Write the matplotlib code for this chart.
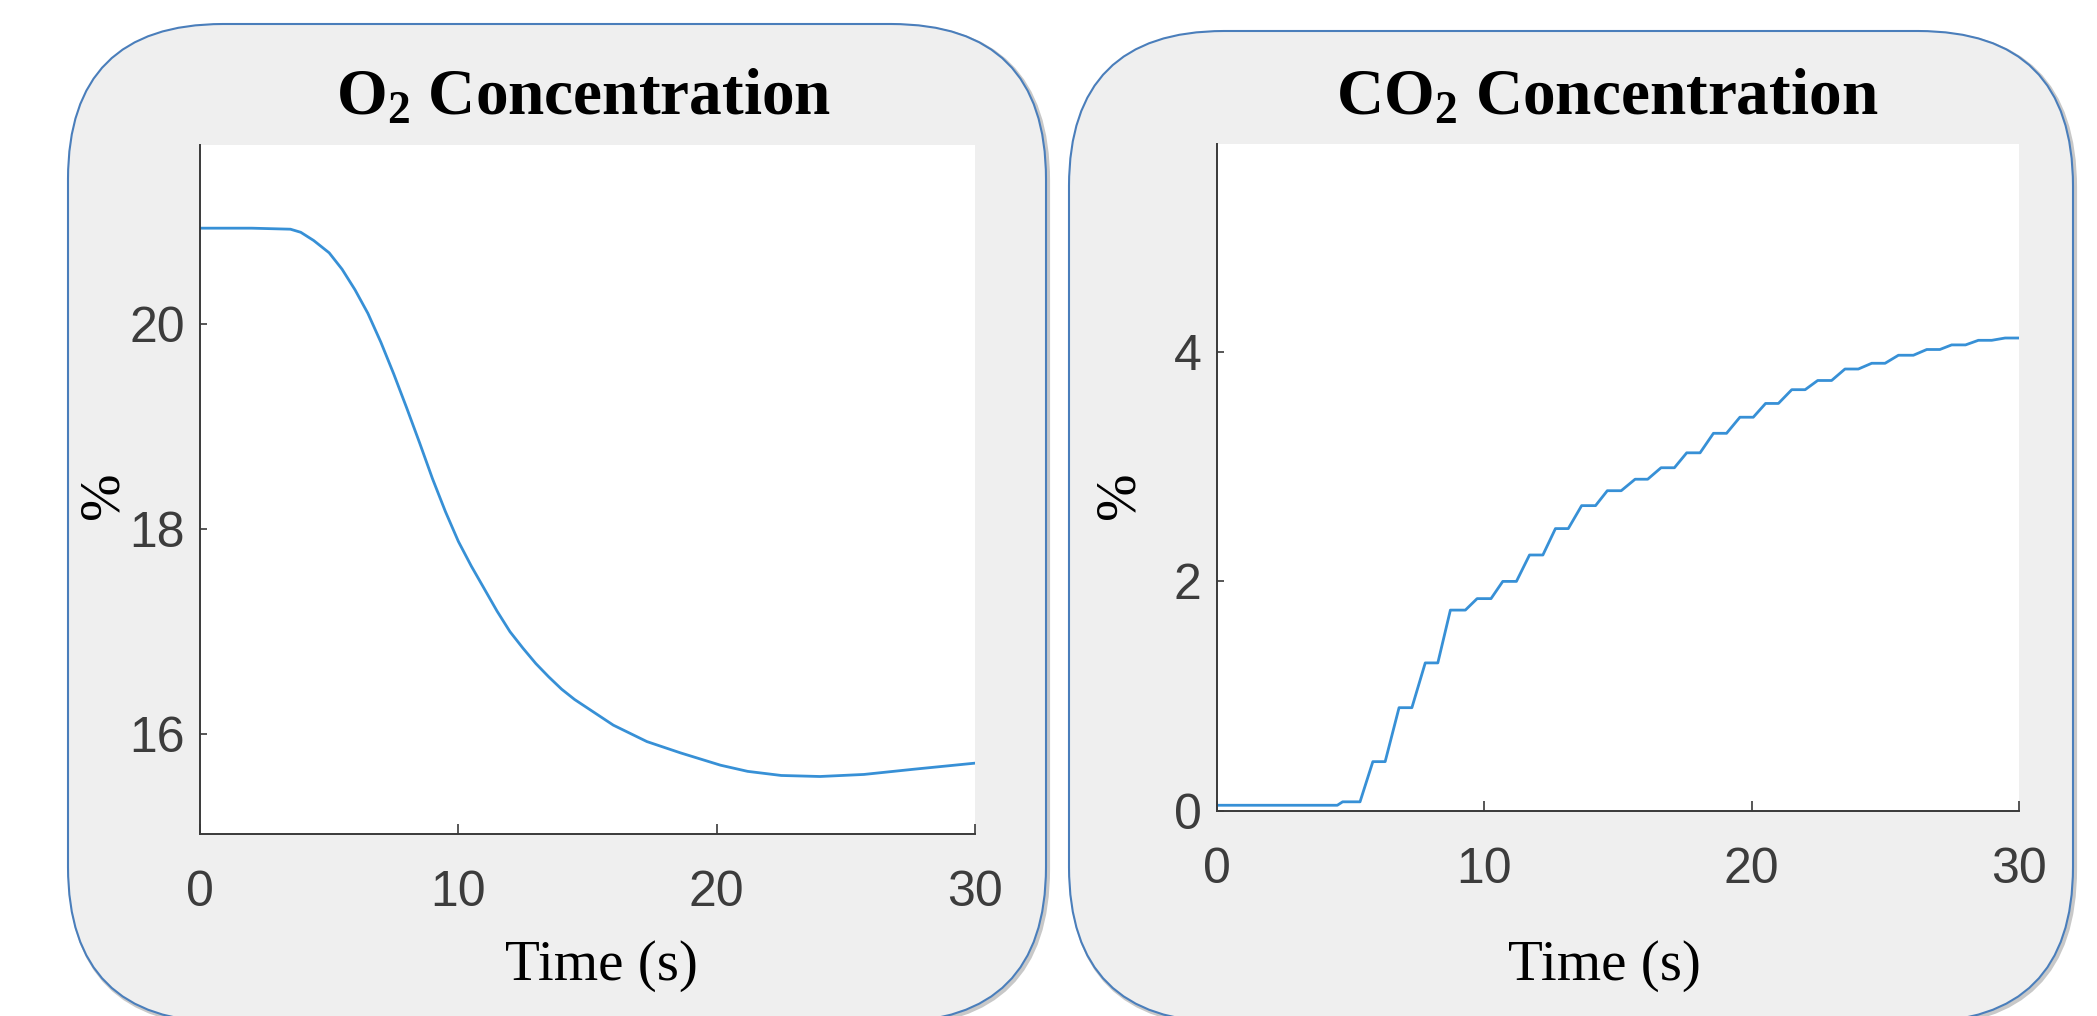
import matplotlib
matplotlib.use('Agg')
import matplotlib.pyplot as plt
from matplotlib.patches import FancyBboxPatch
from matplotlib.transforms import IdentityTransform

# O2 trace (% vs s)
o2_t = [0, 2.0, 3.5, 3.9, 4.4, 5.0, 5.5, 6.0, 6.5, 7.0, 7.5, 8.0, 8.5, 9.0, 9.5, 10.0,
        10.5, 11.0, 11.5, 12.0, 12.5, 13.0, 13.5, 14.0, 14.5, 15.1, 16.0, 17.3, 18.6,
        20.15, 21.2, 22.5, 24.0, 25.7, 27.6, 30]
o2_v = [20.93, 20.93, 20.92, 20.89, 20.81, 20.69, 20.53, 20.33, 20.10, 19.82, 19.51,
        19.18, 18.84, 18.49, 18.17, 17.88, 17.64, 17.42, 17.20, 17.00, 16.84, 16.69,
        16.56, 16.44, 16.34, 16.24, 16.09, 15.93, 15.82, 15.70, 15.64, 15.60, 15.59,
        15.61, 15.66, 15.72]

# CO2 trace (stair-like)
co2_t = [0, 4.5, 4.7, 5.35, 5.83, 6.29, 6.81, 7.29, 7.79, 8.26, 8.73, 9.29, 9.73, 10.25,
         10.69, 11.2, 11.69, 12.19, 12.66, 13.14, 13.64, 14.16, 14.6, 15.12, 15.64, 16.11,
         16.61, 17.11, 17.57, 18.07, 18.57, 19.06, 19.56, 20.06, 20.52, 21.0, 21.5, 22.0,
         22.47, 22.99, 23.49, 23.99, 24.49, 24.99, 25.49, 26.05, 26.55, 27.04, 27.48, 28.0,
         28.48, 28.98, 29.48, 30]
co2_v = [0.05, 0.05, 0.08, 0.08, 0.43, 0.43, 0.90, 0.90, 1.29, 1.29, 1.75, 1.75, 1.85, 1.85,
         2.0, 2.0, 2.23, 2.23, 2.46, 2.46, 2.66, 2.66, 2.79, 2.79, 2.89, 2.89, 2.99, 2.99,
         3.12, 3.12, 3.29, 3.29, 3.43, 3.43, 3.55, 3.55, 3.67, 3.67, 3.75, 3.75, 3.85, 3.85,
         3.90, 3.90, 3.97, 3.97, 4.02, 4.02, 4.06, 4.06, 4.10, 4.10, 4.12, 4.12]

x_ticks = [0, 10, 20, 30]
o2_yticks = [16, 18, 20]
co2_yticks = [0, 2, 4]

W, H = 2097, 1016
plt.rcParams['mathtext.fontset'] = 'custom'
plt.rcParams['mathtext.rm'] = 'Liberation Serif:bold'
plt.rcParams['mathtext.it'] = 'Liberation Serif:bold'
plt.rcParams['mathtext.bf'] = 'Liberation Serif:bold'

tick_font = ['Liberation Sans Narrow', 'Liberation Sans', 'DejaVu Sans']
serif = ['Liberation Serif', 'DejaVu Serif']
line_col = '#3790d6'
box_fc = '#efefef'
box_ec = '#4a7ebb'

fig = plt.figure(figsize=(W / 100, H / 100), dpi=100, facecolor='white')

# rounded panels (pixel coordinates, origin bottom-left)
for x0, y0, w, h in [(68, -6, 978, 998), (1069, -6, 1004, 991)]:
    shadow = FancyBboxPatch((x0 + 2, y0 - 2), w, h, boxstyle='round,pad=0,rounding_size=155',
                            transform=IdentityTransform(), fc='none', ec='#c8c8c8',
                            lw=3, zorder=-2)
    fig.add_artist(shadow)
    box = FancyBboxPatch((x0, y0), w, h, boxstyle='round,pad=0,rounding_size=155',
                         transform=IdentityTransform(), fc=box_fc, ec=box_ec,
                         lw=1.5, zorder=-1)
    fig.add_artist(box)


def px_axes(x0, top, x1, bottom):
    return fig.add_axes([x0 / W, 1 - bottom / H, (x1 - x0) / W, (bottom - top) / H])


def style(ax, yticks):
    ax.set_facecolor('white')
    for s in ['top', 'right']:
        ax.spines[s].set_visible(False)
    for s in ['left', 'bottom']:
        ax.spines[s].set_color('#3a3a3a')
        ax.spines[s].set_linewidth(1.4)
    ax.set_xlim(0, 30)
    ax.set_xticks(x_ticks)
    ax.set_yticks(yticks)
    ax.tick_params(axis='x', direction='in', length=7, width=1.2, color='#3a3a3a',
                   pad=26, labelsize=36, labelcolor='#3c3c3c')
    ax.tick_params(axis='y', direction='in', length=5, width=1.2, color='#3a3a3a',
                   pad=11, labelsize=36, labelcolor='#3c3c3c')
    for lab in ax.get_xticklabels() + ax.get_yticklabels():
        lab.set_fontfamily(tick_font)


ax1 = px_axes(200, 145, 975, 834)
ax1.plot(o2_t, o2_v, color=line_col, lw=2.0)
ax1.set_ylim(15.03, 21.74)
style(ax1, o2_yticks)

ax2 = px_axes(1217, 144, 2019, 811)
ax2.plot(co2_t, co2_v, color=line_col, lw=2.0)
ax2.set_ylim(0, 5.81)
style(ax2, co2_yticks)

# titles
fig.text(584 / W, 1 - 114 / H, r'O$_2$ Concentration', ha='center', va='baseline',
         fontsize=47, fontweight='bold', family=serif)
fig.text(1607 / W, 1 - 114 / H, r'CO$_2$ Concentration', ha='center', va='baseline',
         fontsize=47, fontweight='bold', family=serif)

# axis labels
for cx in [601, 1604]:
    fig.text(cx / W, 1 - 980 / H, 'Time (s)', ha='center', va='baseline',
             fontsize=41, family=serif)
for cx in [103, 1120]:
    fig.text(cx / W, 1 - 495 / H, '%', ha='center', va='center', rotation=90,
             fontsize=41, family=serif)

fig.savefig('out.png', dpi=100, facecolor='white')
